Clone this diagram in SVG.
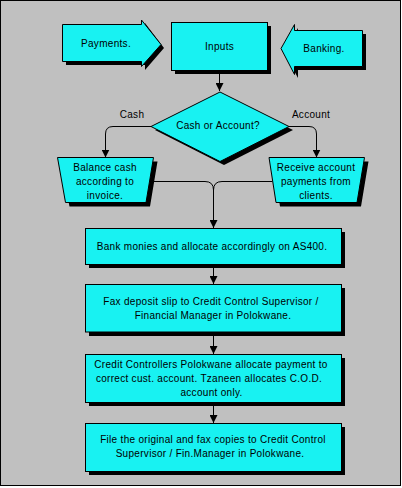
<svg xmlns="http://www.w3.org/2000/svg" width="402" height="488" viewBox="0 0 402 488">
<defs>
<style>
.bg{fill:#c0c0c0;stroke:#000;stroke-width:1}
.sh{fill:#000;stroke:none}
.nd{fill:#18f2f2;stroke:#000;stroke-width:1}
.t{font-family:"Liberation Sans",Arial,sans-serif;font-size:10px;fill:#000;text-anchor:middle;letter-spacing:0.3px}
.c{fill:none;stroke:#000;stroke-width:1}
</style>
<marker id="ah" markerWidth="8" markerHeight="8" refX="8" refY="4" orient="auto" markerUnits="userSpaceOnUse">
<path d="M0,0 L8,4 L0,8 Z" fill="#000"/>
</marker>
</defs>
<rect class="bg" x="0.5" y="0.5" width="400" height="485"/>

<g id="connectors">
<path class="c" d="M219.5,70.5 V91" marker-end="url(#ah)"/>
<path class="c" d="M151,126.5 H113 Q105.5,126.5 105.5,134 V157.5" marker-end="url(#ah)"/>
<path class="c" d="M289,126.5 H309 Q316.5,126.5 316.5,134 V157.5" marker-end="url(#ah)"/>
<path class="c" d="M149.5,181.5 H205 Q213.5,181.5 213.5,190"/>
<path class="c" d="M272.5,181.5 H222 Q213.5,181.5 213.5,190 V228" marker-end="url(#ah)"/>
<path class="c" d="M213.5,264.5 V284" marker-end="url(#ah)"/>
<path class="c" d="M213.5,332 V354" marker-end="url(#ah)"/>
<path class="c" d="M213.5,402.5 V423" marker-end="url(#ah)"/>
<text class="t" x="132" y="118">Cash</text>
<text class="t" x="311" y="118">Account</text>
</g>

<g id="payments">
<polygon class="sh" points="66,28 145,28 145,23 164,48 145,70 145,65 66,65"/>
<polygon class="nd" points="62.5,24.5 141.5,24.5 141.5,20 161,44.5 141.5,66.5 141.5,61.5 62.5,61.5"/>
<text class="t" x="106" y="47">Payments.</text>
</g>

<g id="inputs">
<rect class="sh" x="175" y="26" width="96" height="48"/>
<rect class="nd" x="171.5" y="22.5" width="96" height="48"/>
<text class="t" x="219.5" y="49.5">Inputs</text>
</g>

<g id="banking">
<polygon class="sh" points="284,52 298,28 298,34 366,34 366,70 298,70 298,78"/>
<polygon class="nd" points="281,48.5 294.5,24.5 294.5,30.5 362.5,30.5 362.5,66.5 294.5,66.5 294.5,74.5"/>
<text class="t" x="324" y="52">Banking.</text>
</g>

<g id="decision">
<polygon class="sh" points="224,96 293,130 224,165 155,130"/>
<polygon class="nd" points="220,92 289,126.5 220,161.5 151,126.5"/>
<text class="t" x="218" y="129">Cash or Account?</text>
</g>

<g id="balance">
<polygon class="sh" points="61,161.5 157.5,161.5 150,206.5 69.5,206.5"/>
<polygon class="nd" points="57.5,157.5 153.5,157.5 146,202.5 65.5,202.5"/>
<text class="t" x="105" y="170.5">Balance cash</text>
<text class="t" x="105" y="184.5">according to</text>
<text class="t" x="105" y="198.5">invoice.</text>
</g>

<g id="receive">
<polygon class="sh" points="273,161.5 368.5,161.5 361,206.5 280,206.5"/>
<polygon class="nd" points="269,157.5 364.5,157.5 357,202.5 276,202.5"/>
<text class="t" x="316" y="170.5">Receive account</text>
<text class="t" x="316" y="184.5">payments from</text>
<text class="t" x="316" y="198.5">clients.</text>
</g>

<g id="bank">
<rect class="sh" x="89" y="232" width="256" height="36"/>
<rect class="nd" x="85.5" y="228.5" width="256" height="36"/>
<text class="t" x="212" y="250">Bank monies and allocate accordingly on AS400.</text>
</g>

<g id="fax">
<rect class="sh" x="89" y="288" width="256" height="48"/>
<rect class="nd" x="85.5" y="284.5" width="256" height="47.5"/>
<text class="t" x="211" y="305">Fax deposit slip to Credit Control Supervisor /</text>
<text class="t" x="213" y="319">Financial Manager in Polokwane.</text>
</g>

<g id="credit">
<rect class="sh" x="89" y="358" width="256" height="48"/>
<rect class="nd" x="85.5" y="354.5" width="256" height="48"/>
<text class="t" x="211" y="368">Credit Controllers Polokwane allocate payment to</text>
<text class="t" x="209" y="382">correct cust. account. Tzaneen allocates C.O.D.</text>
<text class="t" x="211.5" y="396">account only.</text>
</g>

<g id="file">
<rect class="sh" x="89" y="427" width="256" height="48"/>
<rect class="nd" x="85.5" y="423.5" width="256" height="48"/>
<text class="t" x="213" y="443">File the original and fax copies to Credit Control</text>
<text class="t" x="210" y="457">Supervisor / Fin.Manager in Polokwane.</text>
</g>
</svg>
